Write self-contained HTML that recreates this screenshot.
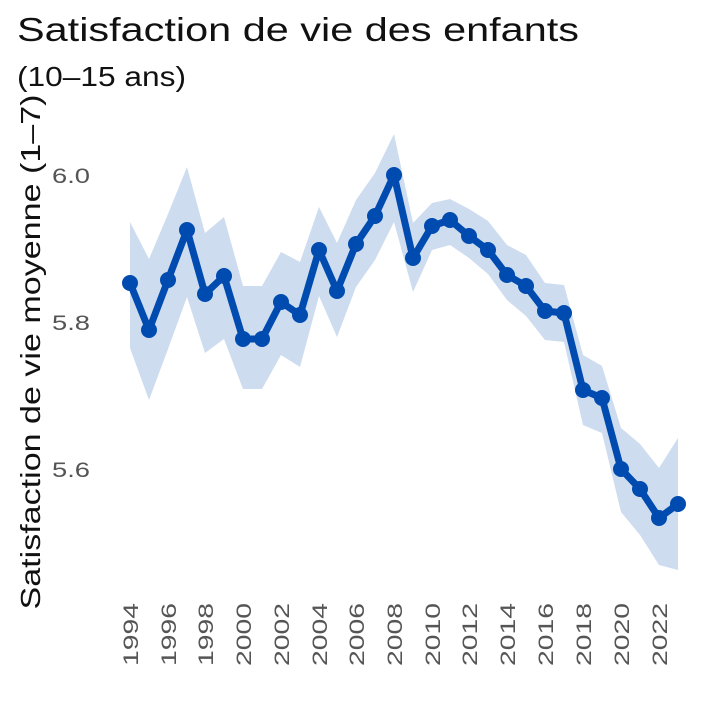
<!DOCTYPE html>
<html><head><meta charset="utf-8"><style>
html,body{margin:0;padding:0;background:#fff;}
svg{display:block;font-family:"Liberation Sans",sans-serif;}
</style></head><body>
<svg width="720" height="720" viewBox="0 0 720 720">
<text x="17" y="41" font-size="33" fill="#111" textLength="562" lengthAdjust="spacingAndGlyphs">Satisfaction de vie des enfants</text>
<text x="17" y="86" font-size="28" fill="#111" textLength="169" lengthAdjust="spacingAndGlyphs">(10–15 ans)</text>
<text transform="translate(40,352) rotate(-90)" text-anchor="middle" font-size="28" fill="#111" textLength="515" lengthAdjust="spacingAndGlyphs">Satisfaction de vie moyenne (1–7)</text>
<g font-size="21" fill="#555" text-anchor="end">
<text x="90" y="183" textLength="38" lengthAdjust="spacingAndGlyphs">6.0</text>
<text x="90" y="330" textLength="38" lengthAdjust="spacingAndGlyphs">5.8</text>
<text x="90" y="477" textLength="38" lengthAdjust="spacingAndGlyphs">5.6</text>
</g>
<polygon fill="#cddcef" points="130,222 149,259 168,214 187,167 205,233 224,217 243,286 262,286 281,252 300,262 319,207 337,243 356,200 375,173 394,134 413,223 432,203 450,199 469,209 488,221 507,245 526,255 545,283 564,285 583,355 602,366 621,428 640,444 659,468 678,438 678,570 659,565 640,535 621,512 602,433 583,425 564,342 545,340 526,316 507,300 488,274 469,258 450,245 432,250 413,292 394,222 375,260 356,287 337,337 319,296 300,367 281,355 262,389 243,389 224,339 205,353 187,297 168,349 149,400 130,348"/>
<g fill="#004bb0" stroke="#004bb0">
<polyline fill="none" stroke-width="7" stroke-linejoin="round" points="130,283 149,330 168,280 187,230 205,294 224,276 243,339 262,339 281,302 300,315 319,250 337,291 356,244 375,216 394,175 413,258 432,226 450,220 469,236 488,250 507,275 526,286 545,311 564,313 583,390 602,398 621,469 640,489 659,518 678,504"/>
<g stroke="none">
<circle cx="130" cy="283" r="8"/><circle cx="149" cy="330" r="8"/><circle cx="168" cy="280" r="8"/><circle cx="187" cy="230" r="8"/><circle cx="205" cy="294" r="8"/><circle cx="224" cy="276" r="8"/><circle cx="243" cy="339" r="8"/><circle cx="262" cy="339" r="8"/><circle cx="281" cy="302" r="8"/><circle cx="300" cy="315" r="8"/><circle cx="319" cy="250" r="8"/><circle cx="337" cy="291" r="8"/><circle cx="356" cy="244" r="8"/><circle cx="375" cy="216" r="8"/><circle cx="394" cy="175" r="8"/><circle cx="413" cy="258" r="8"/><circle cx="432" cy="226" r="8"/><circle cx="450" cy="220" r="8"/><circle cx="469" cy="236" r="8"/><circle cx="488" cy="250" r="8"/><circle cx="507" cy="275" r="8"/><circle cx="526" cy="286" r="8"/><circle cx="545" cy="311" r="8"/><circle cx="564" cy="313" r="8"/><circle cx="583" cy="390" r="8"/><circle cx="602" cy="398" r="8"/><circle cx="621" cy="469" r="8"/><circle cx="640" cy="489" r="8"/><circle cx="659" cy="518" r="8"/><circle cx="678" cy="504" r="8"/>
</g></g>
<g font-size="21" fill="#555" text-anchor="end">
<text transform="translate(138,603) rotate(-90)" textLength="63" lengthAdjust="spacingAndGlyphs">1994</text>
<text transform="translate(176,603) rotate(-90)" textLength="63" lengthAdjust="spacingAndGlyphs">1996</text>
<text transform="translate(213,603) rotate(-90)" textLength="63" lengthAdjust="spacingAndGlyphs">1998</text>
<text transform="translate(251,603) rotate(-90)" textLength="63" lengthAdjust="spacingAndGlyphs">2000</text>
<text transform="translate(289,603) rotate(-90)" textLength="63" lengthAdjust="spacingAndGlyphs">2002</text>
<text transform="translate(327,603) rotate(-90)" textLength="63" lengthAdjust="spacingAndGlyphs">2004</text>
<text transform="translate(364,603) rotate(-90)" textLength="63" lengthAdjust="spacingAndGlyphs">2006</text>
<text transform="translate(402,603) rotate(-90)" textLength="63" lengthAdjust="spacingAndGlyphs">2008</text>
<text transform="translate(440,603) rotate(-90)" textLength="63" lengthAdjust="spacingAndGlyphs">2010</text>
<text transform="translate(477,603) rotate(-90)" textLength="63" lengthAdjust="spacingAndGlyphs">2012</text>
<text transform="translate(515,603) rotate(-90)" textLength="63" lengthAdjust="spacingAndGlyphs">2014</text>
<text transform="translate(553,603) rotate(-90)" textLength="63" lengthAdjust="spacingAndGlyphs">2016</text>
<text transform="translate(591,603) rotate(-90)" textLength="63" lengthAdjust="spacingAndGlyphs">2018</text>
<text transform="translate(629,603) rotate(-90)" textLength="63" lengthAdjust="spacingAndGlyphs">2020</text>
<text transform="translate(667,603) rotate(-90)" textLength="63" lengthAdjust="spacingAndGlyphs">2022</text>
</g>
</svg>
</body></html>
